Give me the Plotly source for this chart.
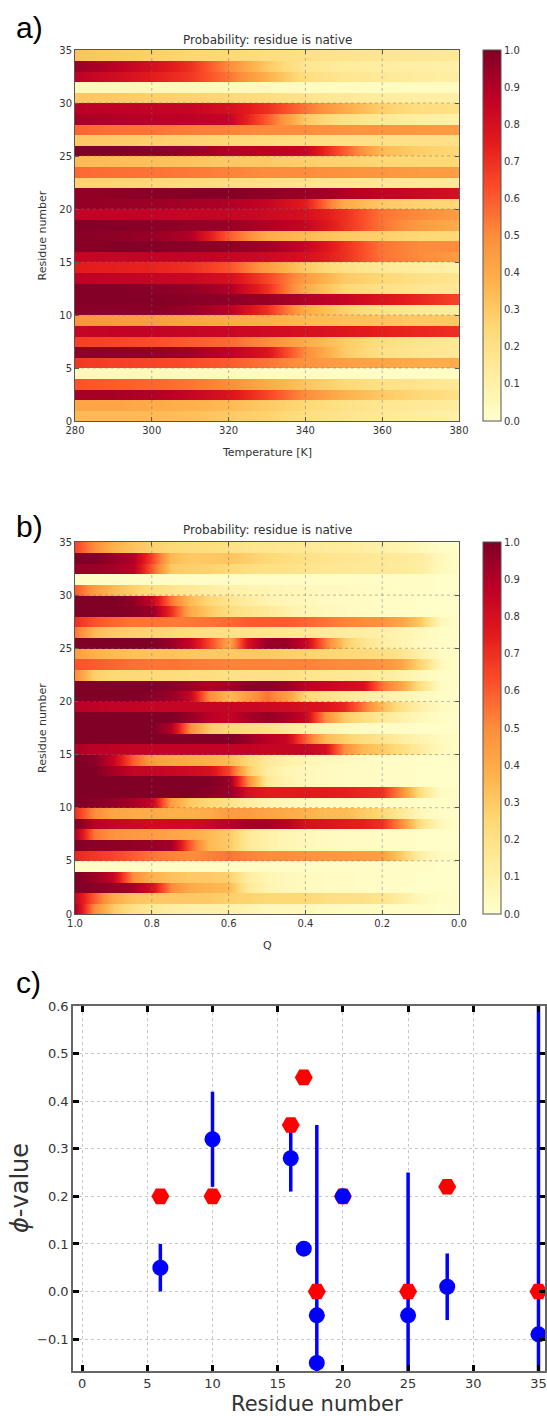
import plotly.graph_objects as go

W, H = 547, 1416

# ---------------- data ----------------
residues = list(range(35))
temperature = [280, 290, 300, 310, 320, 330, 340, 350, 360, 370, 380]
q_values = [1.0, 0.95, 0.9, 0.85, 0.8, 0.75, 0.7, 0.65, 0.6, 0.55, 0.5,
            0.45, 0.4, 0.35, 0.3, 0.25, 0.2, 0.15, 0.1, 0.05, 0.0]

prob_vs_temperature = [
    [0.35, 0.35, 0.35, 0.33, 0.30, 0.27, 0.22, 0.18, 0.15, 0.12, 0.10],
    [0.42, 0.42, 0.40, 0.38, 0.35, 0.30, 0.25, 0.20, 0.17, 0.15, 0.13],
    [0.92, 0.92, 0.90, 0.85, 0.78, 0.65, 0.50, 0.38, 0.30, 0.25, 0.20],
    [0.62, 0.60, 0.58, 0.55, 0.50, 0.40, 0.32, 0.25, 0.20, 0.18, 0.15],
    [0.05, 0.05, 0.05, 0.04, 0.04, 0.03, 0.03, 0.02, 0.02, 0.02, 0.02],
    [0.68, 0.66, 0.65, 0.63, 0.60, 0.55, 0.48, 0.44, 0.42, 0.40, 0.40],
    [0.97, 0.97, 0.96, 0.93, 0.87, 0.78, 0.50, 0.30, 0.20, 0.17, 0.15],
    [0.66, 0.65, 0.63, 0.60, 0.57, 0.50, 0.40, 0.30, 0.22, 0.18, 0.15],
    [0.85, 0.86, 0.86, 0.85, 0.84, 0.82, 0.80, 0.77, 0.74, 0.72, 0.70],
    [0.48, 0.46, 0.45, 0.42, 0.40, 0.38, 0.35, 0.33, 0.32, 0.30, 0.30],
    [0.98, 0.98, 0.98, 0.95, 0.88, 0.70, 0.40, 0.28, 0.20, 0.15, 0.12],
    [0.99, 0.99, 0.99, 0.98, 0.97, 0.95, 0.90, 0.85, 0.78, 0.72, 0.65],
    [0.99, 0.99, 0.98, 0.96, 0.90, 0.70, 0.40, 0.25, 0.20, 0.17, 0.15],
    [0.87, 0.86, 0.85, 0.84, 0.80, 0.65, 0.45, 0.30, 0.25, 0.20, 0.17],
    [0.75, 0.74, 0.73, 0.70, 0.62, 0.45, 0.30, 0.20, 0.15, 0.12, 0.10],
    [0.85, 0.85, 0.86, 0.86, 0.85, 0.83, 0.80, 0.70, 0.55, 0.50, 0.45],
    [0.98, 0.99, 0.99, 0.98, 0.97, 0.93, 0.85, 0.70, 0.55, 0.50, 0.50],
    [0.98, 0.97, 0.95, 0.90, 0.60, 0.40, 0.35, 0.30, 0.28, 0.25, 0.25],
    [0.99, 0.99, 0.98, 0.96, 0.95, 0.90, 0.85, 0.70, 0.55, 0.45, 0.40],
    [0.86, 0.86, 0.86, 0.85, 0.85, 0.83, 0.80, 0.70, 0.55, 0.50, 0.45],
    [0.96, 0.95, 0.94, 0.92, 0.90, 0.85, 0.75, 0.40, 0.30, 0.27, 0.25],
    [0.96, 0.97, 0.98, 0.99, 0.99, 0.97, 0.95, 0.90, 0.86, 0.83, 0.80],
    [0.27, 0.26, 0.25, 0.23, 0.22, 0.20, 0.18, 0.17, 0.15, 0.15, 0.15],
    [0.57, 0.56, 0.55, 0.54, 0.52, 0.50, 0.50, 0.48, 0.47, 0.45, 0.45],
    [0.35, 0.34, 0.33, 0.32, 0.30, 0.30, 0.28, 0.27, 0.25, 0.25, 0.25],
    [1.00, 1.00, 0.98, 0.95, 0.90, 0.88, 0.85, 0.60, 0.35, 0.28, 0.25],
    [0.30, 0.30, 0.28, 0.27, 0.25, 0.23, 0.22, 0.20, 0.20, 0.20, 0.20],
    [0.58, 0.56, 0.55, 0.53, 0.52, 0.50, 0.50, 0.48, 0.47, 0.46, 0.45],
    [0.92, 0.90, 0.88, 0.87, 0.85, 0.60, 0.30, 0.20, 0.15, 0.12, 0.10],
    [0.88, 0.87, 0.86, 0.85, 0.80, 0.70, 0.55, 0.40, 0.28, 0.22, 0.20],
    [0.30, 0.30, 0.28, 0.27, 0.25, 0.22, 0.18, 0.15, 0.13, 0.12, 0.10],
    [0.05, 0.05, 0.05, 0.05, 0.04, 0.04, 0.03, 0.03, 0.03, 0.03, 0.03],
    [0.87, 0.82, 0.75, 0.68, 0.55, 0.38, 0.22, 0.17, 0.15, 0.13, 0.12],
    [0.95, 0.88, 0.80, 0.70, 0.50, 0.30, 0.17, 0.13, 0.12, 0.11, 0.10],
    [0.32, 0.30, 0.28, 0.26, 0.25, 0.22, 0.20, 0.18, 0.17, 0.16, 0.15],
]

prob_vs_q = [
    [0.90, 0.50, 0.30, 0.20, 0.15, 0.12, 0.10, 0.10, 0.10, 0.08, 0.05, 0.05, 0.05, 0.04, 0.03, 0.03, 0.02, 0.02, 0.02, 0.01, 0.01],
    [0.85, 0.60, 0.40, 0.32, 0.30, 0.30, 0.30, 0.30, 0.28, 0.27, 0.25, 0.25, 0.25, 0.22, 0.20, 0.20, 0.18, 0.12, 0.05, 0.02, 0.01],
    [1.00, 0.98, 0.96, 0.93, 0.80, 0.50, 0.40, 0.37, 0.35, 0.15, 0.08, 0.05, 0.04, 0.03, 0.03, 0.02, 0.02, 0.02, 0.01, 0.01, 0.01],
    [1.00, 0.95, 0.85, 0.50, 0.38, 0.33, 0.30, 0.30, 0.28, 0.12, 0.07, 0.05, 0.04, 0.03, 0.03, 0.02, 0.02, 0.02, 0.01, 0.01, 0.01],
    [0.02, 0.02, 0.02, 0.02, 0.02, 0.02, 0.02, 0.02, 0.02, 0.02, 0.02, 0.02, 0.02, 0.02, 0.02, 0.02, 0.02, 0.02, 0.02, 0.01, 0.01],
    [0.72, 0.68, 0.65, 0.60, 0.55, 0.52, 0.50, 0.52, 0.55, 0.52, 0.50, 0.50, 0.48, 0.47, 0.46, 0.45, 0.44, 0.30, 0.10, 0.03, 0.01],
    [1.00, 0.98, 0.97, 0.96, 0.95, 0.93, 0.60, 0.35, 0.30, 0.15, 0.10, 0.07, 0.05, 0.04, 0.03, 0.03, 0.02, 0.02, 0.01, 0.01, 0.01],
    [0.90, 0.55, 0.48, 0.46, 0.45, 0.42, 0.40, 0.35, 0.30, 0.15, 0.10, 0.07, 0.05, 0.04, 0.03, 0.03, 0.02, 0.02, 0.01, 0.01, 0.01],
    [1.00, 0.88, 0.85, 0.83, 0.82, 0.82, 0.82, 0.84, 0.88, 0.92, 0.92, 0.88, 0.80, 0.78, 0.75, 0.74, 0.70, 0.50, 0.20, 0.05, 0.01],
    [0.70, 0.50, 0.42, 0.40, 0.40, 0.38, 0.38, 0.40, 0.45, 0.45, 0.42, 0.40, 0.38, 0.35, 0.35, 0.30, 0.25, 0.15, 0.05, 0.02, 0.01],
    [1.00, 0.98, 0.96, 0.92, 0.85, 0.45, 0.30, 0.25, 0.20, 0.12, 0.08, 0.05, 0.04, 0.03, 0.03, 0.02, 0.02, 0.02, 0.01, 0.01, 0.01],
    [1.00, 1.00, 1.00, 1.00, 1.00, 1.00, 1.00, 0.98, 0.95, 0.80, 0.75, 0.75, 0.75, 0.75, 0.74, 0.72, 0.70, 0.50, 0.20, 0.03, 0.01],
    [1.00, 1.00, 1.00, 1.00, 1.00, 1.00, 1.00, 1.00, 0.95, 0.50, 0.15, 0.08, 0.05, 0.04, 0.03, 0.03, 0.02, 0.02, 0.01, 0.01, 0.01],
    [1.00, 1.00, 0.92, 0.85, 0.85, 0.84, 0.82, 0.80, 0.65, 0.30, 0.12, 0.07, 0.05, 0.04, 0.03, 0.03, 0.02, 0.02, 0.01, 0.01, 0.01],
    [1.00, 0.98, 0.85, 0.60, 0.45, 0.42, 0.40, 0.38, 0.35, 0.25, 0.15, 0.10, 0.07, 0.05, 0.04, 0.03, 0.02, 0.02, 0.01, 0.01, 0.01],
    [0.90, 0.88, 0.87, 0.86, 0.86, 0.86, 0.86, 0.86, 0.86, 0.86, 0.85, 0.85, 0.85, 0.80, 0.50, 0.35, 0.30, 0.22, 0.12, 0.05, 0.02],
    [1.00, 1.00, 1.00, 1.00, 1.00, 1.00, 1.00, 1.00, 1.00, 0.95, 0.88, 0.85, 0.60, 0.35, 0.28, 0.22, 0.18, 0.12, 0.08, 0.04, 0.02],
    [1.00, 1.00, 1.00, 1.00, 1.00, 0.90, 0.50, 0.30, 0.25, 0.22, 0.20, 0.15, 0.10, 0.06, 0.04, 0.03, 0.02, 0.02, 0.01, 0.01, 0.01],
    [1.00, 1.00, 1.00, 1.00, 1.00, 1.00, 0.95, 0.88, 0.85, 0.92, 0.95, 0.92, 0.85, 0.50, 0.30, 0.22, 0.15, 0.10, 0.05, 0.02, 0.01],
    [0.88, 0.87, 0.86, 0.86, 0.85, 0.85, 0.85, 0.85, 0.85, 0.84, 0.83, 0.82, 0.80, 0.78, 0.72, 0.55, 0.35, 0.20, 0.10, 0.04, 0.02],
    [1.00, 1.00, 1.00, 1.00, 0.98, 0.95, 0.85, 0.50, 0.35, 0.45, 0.55, 0.45, 0.25, 0.20, 0.15, 0.12, 0.10, 0.07, 0.04, 0.02, 0.01],
    [1.00, 1.00, 1.00, 1.00, 1.00, 0.98, 0.95, 0.90, 0.92, 0.98, 0.98, 0.95, 0.88, 0.85, 0.82, 0.80, 0.55, 0.42, 0.20, 0.03, 0.01],
    [0.50, 0.28, 0.25, 0.25, 0.24, 0.23, 0.22, 0.22, 0.20, 0.20, 0.20, 0.20, 0.18, 0.17, 0.16, 0.15, 0.13, 0.10, 0.05, 0.02, 0.01],
    [0.62, 0.60, 0.58, 0.56, 0.55, 0.55, 0.54, 0.53, 0.52, 0.52, 0.52, 0.52, 0.52, 0.51, 0.50, 0.50, 0.48, 0.42, 0.25, 0.05, 0.01],
    [0.45, 0.38, 0.35, 0.33, 0.32, 0.32, 0.31, 0.30, 0.30, 0.30, 0.30, 0.28, 0.27, 0.26, 0.25, 0.24, 0.22, 0.18, 0.10, 0.03, 0.01],
    [1.00, 1.00, 1.00, 1.00, 1.00, 0.95, 0.85, 0.65, 0.42, 0.80, 0.95, 0.95, 0.85, 0.55, 0.30, 0.18, 0.12, 0.08, 0.04, 0.02, 0.01],
    [0.55, 0.35, 0.30, 0.28, 0.27, 0.25, 0.22, 0.20, 0.20, 0.18, 0.17, 0.16, 0.15, 0.14, 0.13, 0.12, 0.10, 0.08, 0.05, 0.02, 0.01],
    [0.70, 0.62, 0.58, 0.55, 0.55, 0.54, 0.54, 0.55, 0.57, 0.60, 0.60, 0.60, 0.58, 0.55, 0.52, 0.50, 0.48, 0.42, 0.30, 0.05, 0.01],
    [1.00, 1.00, 1.00, 0.98, 0.95, 0.70, 0.40, 0.30, 0.22, 0.18, 0.15, 0.10, 0.07, 0.05, 0.04, 0.03, 0.02, 0.02, 0.01, 0.01, 0.01],
    [1.00, 1.00, 1.00, 0.97, 0.85, 0.55, 0.35, 0.25, 0.18, 0.12, 0.08, 0.06, 0.05, 0.04, 0.03, 0.03, 0.02, 0.02, 0.01, 0.01, 0.01],
    [0.60, 0.45, 0.35, 0.28, 0.22, 0.18, 0.15, 0.12, 0.10, 0.08, 0.07, 0.06, 0.05, 0.04, 0.04, 0.03, 0.03, 0.02, 0.02, 0.01, 0.01],
    [0.02, 0.02, 0.02, 0.02, 0.02, 0.02, 0.02, 0.02, 0.02, 0.02, 0.02, 0.02, 0.02, 0.02, 0.02, 0.02, 0.02, 0.02, 0.02, 0.01, 0.01],
    [0.95, 0.95, 0.92, 0.88, 0.60, 0.30, 0.28, 0.27, 0.25, 0.22, 0.20, 0.20, 0.18, 0.17, 0.16, 0.15, 0.15, 0.14, 0.12, 0.05, 0.02],
    [1.00, 1.00, 0.95, 0.90, 0.65, 0.35, 0.30, 0.30, 0.32, 0.28, 0.25, 0.22, 0.20, 0.18, 0.17, 0.16, 0.15, 0.14, 0.12, 0.05, 0.02],
    [0.65, 0.50, 0.38, 0.32, 0.28, 0.25, 0.23, 0.22, 0.20, 0.18, 0.17, 0.16, 0.15, 0.14, 0.13, 0.12, 0.10, 0.08, 0.05, 0.02, 0.01],
]

# phi-values (panel c)
exp_residue = [6, 10, 16, 17, 18, 20, 25, 28, 35]
exp_phi = [0.20, 0.20, 0.35, 0.45, 0.00, 0.20, 0.00, 0.22, 0.00]
sim_residue = [6, 10, 16, 17, 18, 18, 20, 25, 28, 35]
sim_phi = [0.05, 0.32, 0.28, 0.09, -0.05, -0.15, 0.20, -0.05, 0.01, -0.09]
sim_err = [0.05, 0.10, 0.07, 0.0, 0.40, 0.0, 0.0, 0.30, 0.07, 0.70]

temp_ticks = [280, 300, 320, 340, 360, 380]
q_ticks = [1.0, 0.8, 0.6, 0.4, 0.2, 0.0]
res_ticks = [0, 5, 10, 15, 20, 25, 30, 35]
cbar_ticks = [0.0, 0.1, 0.2, 0.3, 0.4, 0.5, 0.6, 0.7, 0.8, 0.9, 1.0]
c_xticks = [0, 5, 10, 15, 20, 25, 30, 35]
c_yticks = [-0.1, 0.0, 0.1, 0.2, 0.3, 0.4, 0.5, 0.6]

# ---------------- styling ----------------
YLORRD = [[0.0, "#ffffcc"], [0.125, "#ffeda0"], [0.25, "#fed976"], [0.375, "#feb24c"],
          [0.5, "#fd8d3c"], [0.625, "#fc4e2a"], [0.75, "#e31a1c"], [0.875, "#bd0026"],
          [1.0, "#800026"]]
FONT = "DejaVu Sans"
TXT = "#333333"
FRAME = "#555555"


def px(x):
    return x / W


def py(y):
    return 1 - y / H


def expand_rows(rows):
    ys, zs = [], []
    for r, row in zip(residues, rows):
        ys += [r + 0.04, r + 0.96]
        zs += [row, row]
    return ys, zs


# pixel boxes
A_TOP, A_BOT = 50, 421
B_TOP, B_BOT = 542, 914
HM_L, HM_R = 75, 459
C_TOP, C_BOT = 1006, 1371
C_L, C_R = 73, 545

fig = go.Figure()

for i, (xs, rows, top, bot) in enumerate([(temperature, prob_vs_temperature, A_TOP, A_BOT),
                                          (q_values, prob_vs_q, B_TOP, B_BOT)]):
    ys, zs = expand_rows(rows)
    fig.add_trace(go.Heatmap(
        x=xs, y=ys, z=zs, zmin=0, zmax=1, zsmooth="best",
        colorscale=YLORRD, xaxis="x" if i == 0 else "x2", yaxis="y" if i == 0 else "y2",
        colorbar=dict(x=px(483), xanchor="left", y=py(top), yanchor="top",
                      len=(bot - top) / H, lenmode="fraction", thickness=18,
                      outlinewidth=1, outlinecolor=FRAME, xpad=0, ypad=0,
                      tickvals=cbar_ticks, ticktext=[f"{v:.1f}" for v in cbar_ticks],
                      tickfont=dict(size=10, color=TXT, family=FONT), ticks=""),
        showscale=True, hoverinfo="skip"))

# panel c traces: error bars, experimental hexagons, simulated circles
fig.add_trace(go.Scatter(
    x=sim_residue, y=sim_phi, mode="markers", xaxis="x3", yaxis="y3",
    marker=dict(size=1, color="rgba(0,0,0,0)"),
    error_y=dict(type="data", array=sim_err, visible=True, color="#0000ff",
                 thickness=3.5, width=0),
    showlegend=False, hoverinfo="skip"))
fig.add_trace(go.Scatter(
    x=exp_residue, y=exp_phi, mode="markers", xaxis="x3", yaxis="y3",
    marker=dict(symbol="hexagon2", size=18, color="#ff0000", line=dict(width=0)),
    showlegend=False))
fig.add_trace(go.Scatter(
    x=sim_residue, y=sim_phi, mode="markers", xaxis="x3", yaxis="y3",
    marker=dict(symbol="circle", size=16, color="#0000ff", line=dict(width=0)),
    showlegend=False))

hm_axis = dict(showline=True, mirror="allticks", linecolor=FRAME, linewidth=1,
               ticks="inside", ticklen=4, tickcolor=FRAME, showgrid=False, zeroline=False,
               ticklabeloverflow="allow",
               tickfont=dict(size=10, color=TXT, family=FONT))

c_axis = dict(showline=True, mirror="allticks", linecolor="#666666", linewidth=1.5,
              ticks="inside", ticklen=6, tickwidth=2.5, tickcolor="black",
              showgrid=True, gridcolor="#c8c8c8", griddash="dot", gridwidth=1,
              zeroline=False, ticklabeloverflow="allow",
              tickfont=dict(size=13, color=TXT, family=FONT))

fig.update_layout(
    width=W, height=H, autosize=False,
    margin=dict(l=0, r=0, t=0, b=0, pad=0, autoexpand=False),
    paper_bgcolor="white", plot_bgcolor="white",
    font=dict(family=FONT, color=TXT),
    showlegend=False,
    xaxis=dict(hm_axis, domain=[px(HM_L), px(HM_R)], range=[280, 380], tickvals=temp_ticks,
               anchor="y"),
    yaxis=dict(hm_axis, domain=[py(A_BOT), py(A_TOP)], range=[0, 35], tickvals=res_ticks,
               anchor="x"),
    xaxis2=dict(hm_axis, domain=[px(HM_L), px(HM_R)], range=[1.0, 0.0], tickvals=q_ticks,
                ticktext=[f"{v:.1f}" for v in q_ticks], anchor="y2"),
    yaxis2=dict(hm_axis, domain=[py(B_BOT), py(B_TOP)], range=[0, 35], tickvals=res_ticks,
                anchor="x2"),
    xaxis3=dict(c_axis, domain=[px(C_L), px(C_R)], range=[-0.7, 35.5], tickvals=c_xticks,
                anchor="y3"),
    yaxis3=dict(c_axis, domain=[py(C_BOT), py(C_TOP)], range=[-0.167, 0.6], tickvals=c_yticks,
                ticktext=["\u22120.1" if v < 0 else f"{v:.1f}" for v in c_yticks],
                anchor="x3"),
)

# dotted grid drawn over the heatmaps (as in the original)
shapes = []
for xa, ya, xt in [("x", "y", temp_ticks), ("x2", "y2", q_ticks)]:
    for v in xt[1:-1]:
        shapes.append(dict(type="line", xref=xa, yref=ya, x0=v, x1=v, y0=0, y1=35,
                           line=dict(color="rgba(110,110,110,0.45)", width=1, dash="dot"),
                           layer="above"))
    for v in res_ticks[1:-1]:
        shapes.append(dict(type="line", xref=xa, yref=ya, x0=xt[0], x1=xt[-1], y0=v, y1=v,
                           line=dict(color="rgba(110,110,110,0.45)", width=1, dash="dot"),
                           layer="above"))
fig.update_layout(shapes=shapes)

ann = []


def text(x, y, s, size, color=TXT, angle=0, family=FONT, xanchor="center"):
    ann.append(dict(x=px(x), y=py(y), xref="paper", yref="paper", text=s, showarrow=False,
                    font=dict(size=size, color=color, family=family), textangle=angle,
                    xanchor=xanchor, yanchor="middle"))


text(14, 28, "a)", 30, "black", family="Liberation Sans", xanchor="left")
text(14, 526, "b)", 30, "black", family="Liberation Sans", xanchor="left")
text(14, 982, "c)", 30, "black", family="Liberation Sans", xanchor="left")
text((HM_L + HM_R) / 2, 40, "Probability: residue is native", 12)
text((HM_L + HM_R) / 2, 530, "Probability: residue is native", 12)
text((HM_L + HM_R) / 2, 452, "Temperature [K]", 11)
text((HM_L + HM_R) / 2, 945, "Q", 11)
text(42, (A_TOP + A_BOT) / 2, "Residue number", 11, angle=-90)
text(42, (B_TOP + B_BOT) / 2, "Residue number", 11, angle=-90)
text((C_L + C_R) / 2 + 8, 1403.5, "Residue number", 21)
text(20, 1188, "<i>\u03d5</i>-value", 24, angle=-90)
fig.update_layout(annotations=ann)

fig.write_html("out.html", config={"displayModeBar": False},
               post_script="document.body.style.margin='0';document.body.style.overflow='hidden';")
